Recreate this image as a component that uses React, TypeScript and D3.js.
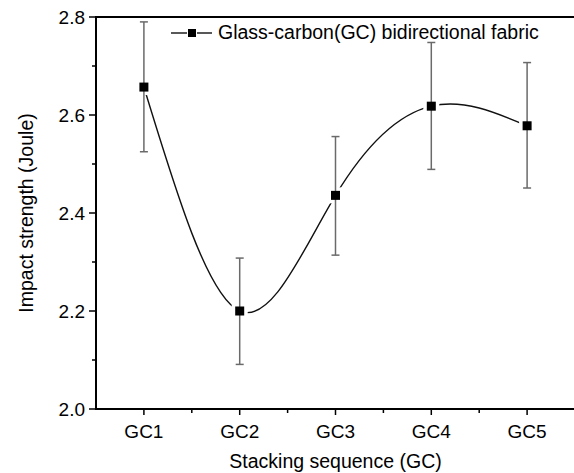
import React, { useEffect, useRef } from 'react';
import * as d3 from 'd3';

const categories = ['GC1', 'GC2', 'GC3', 'GC4', 'GC5'];
const impact = [2.657, 2.2, 2.436, 2.618, 2.578];
const errUpper = [2.79, 2.308, 2.556, 2.748, 2.707];
const errLower = [2.525, 2.091, 2.314, 2.489, 2.451];
const yTicks = [2.0, 2.2, 2.4, 2.6, 2.8];
const yMinorTicks = [2.1, 2.3, 2.5, 2.7];
const legendLabel = 'Glass-carbon(GC) bidirectional fabric';
const xTitle = 'Stacking sequence (GC)';
const yTitle = 'Impact strength (Joule)';

const W = 574;
const H = 473;
const left = 96;
const right = 575;
const top = 17;
const bottom = 409;
const font = '"Liberation Sans", Arial, sans-serif';

export default function App() {
  const ref = useRef<SVGSVGElement | null>(null);

  useEffect(() => {
    const svg = d3.select(ref.current);
    svg.selectAll('*').remove();

    const x = d3.scalePoint<string>().domain(categories).range([left, right]).padding(0.5);
    const y = d3.scaleLinear().domain([2.0, 2.8]).range([bottom, top]);
    const step = x.step();

    const pts = categories.map((c, i) => ({ c, v: impact[i], hi: errUpper[i], lo: errLower[i] }));

    // curve
    const line = d3.line<any>()
      .x(d => x(d.c) as number)
      .y(d => y(d.v))
      .curve(d3.curveNatural);

    svg.append('path')
      .attr('d', line(pts))
      .attr('fill', 'none')
      .attr('stroke', '#111')
      .attr('stroke-width', 1.4);

    // gaps round markers
    svg.selectAll('rect.gap')
      .data(pts)
      .enter()
      .append('rect')
      .attr('x', d => (x(d.c) as number) - 8)
      .attr('y', d => y(d.v) - 8)
      .attr('width', 16)
      .attr('height', 16)
      .attr('fill', '#fff');

    // error bars
    const eb = svg.append('g').attr('stroke', '#6a6a6a').attr('stroke-width', 1.5);
    pts.forEach(d => {
      const cx = x(d.c) as number;
      eb.append('line').attr('x1', cx).attr('x2', cx).attr('y1', y(d.hi)).attr('y2', y(d.lo));
      eb.append('line').attr('x1', cx - 4).attr('x2', cx + 4).attr('y1', y(d.hi)).attr('y2', y(d.hi));
      eb.append('line').attr('x1', cx - 4).attr('x2', cx + 4).attr('y1', y(d.lo)).attr('y2', y(d.lo));
    });

    // markers
    svg.selectAll('rect.mk')
      .data(pts)
      .enter()
      .append('rect')
      .attr('x', d => (x(d.c) as number) - 4.5)
      .attr('y', d => y(d.v) - 4.5)
      .attr('width', 9)
      .attr('height', 9)
      .attr('fill', '#000');

    // frame (right side falls just outside the picture)
    svg.append('rect')
      .attr('x', left)
      .attr('y', top)
      .attr('width', right + 3 - left)
      .attr('height', bottom - top)
      .attr('fill', 'none')
      .attr('stroke', '#000')
      .attr('stroke-width', 2);

    // y axis ticks
    const ya = svg.append('g').attr('stroke', '#000').attr('stroke-width', 1.5);
    yTicks.forEach(t => {
      ya.append('line').attr('x1', left - 7).attr('x2', left).attr('y1', y(t)).attr('y2', y(t));
    });
    yMinorTicks.forEach(t => {
      ya.append('line').attr('x1', left - 4).attr('x2', left).attr('y1', y(t)).attr('y2', y(t));
    });
    svg.append('g')
      .selectAll('text')
      .data(yTicks)
      .enter()
      .append('text')
      .attr('x', left - 11)
      .attr('y', d => y(d))
      .attr('dy', '0.36em')
      .attr('text-anchor', 'end')
      .attr('font-family', font)
      .attr('font-size', 19)
      .text(d => d3.format('.1f')(d));

    // x axis ticks
    const xa = svg.append('g').attr('stroke', '#000').attr('stroke-width', 1.5);
    categories.forEach((c, i) => {
      const cx = x(c) as number;
      xa.append('line').attr('x1', cx).attr('x2', cx).attr('y1', bottom).attr('y2', bottom + 6);
      if (i < categories.length - 1) {
        xa.append('line').attr('x1', cx + step / 2).attr('x2', cx + step / 2).attr('y1', bottom).attr('y2', bottom + 4);
      }
    });
    svg.append('g')
      .selectAll('text')
      .data(categories)
      .enter()
      .append('text')
      .attr('x', d => x(d) as number)
      .attr('y', bottom + 29)
      .attr('text-anchor', 'middle')
      .attr('font-family', font)
      .attr('font-size', 19)
      .text(d => d);

    // titles
    svg.append('text')
      .attr('x', (left + right) / 2)
      .attr('y', 468)
      .attr('text-anchor', 'middle')
      .attr('font-family', font)
      .attr('font-size', 19.5)
      .text(xTitle);

    svg.append('text')
      .attr('transform', `translate(33,${(top + bottom) / 2}) rotate(-90)`)
      .attr('text-anchor', 'middle')
      .attr('font-family', font)
      .attr('font-size', 19.5)
      .text(yTitle);

    // legend
    const lg = svg.append('g');
    lg.append('line').attr('x1', 171).attr('x2', 187).attr('y1', 33).attr('y2', 33).attr('stroke', '#111').attr('stroke-width', 1.4);
    lg.append('line').attr('x1', 197).attr('x2', 212).attr('y1', 33).attr('y2', 33).attr('stroke', '#111').attr('stroke-width', 1.4);
    lg.append('rect').attr('x', 188).attr('y', 29).attr('width', 8).attr('height', 8).attr('fill', '#000');
    lg.append('text')
      .attr('x', 218)
      .attr('y', 39)
      .attr('font-family', font)
      .attr('font-size', 19.5)
      .text(legendLabel);
  }, []);

  return (
    <svg
      ref={ref}
      width={W}
      height={H}
      style={{ position: 'absolute', left: 0, top: 0, background: '#fff' }}
    />
  );
}
